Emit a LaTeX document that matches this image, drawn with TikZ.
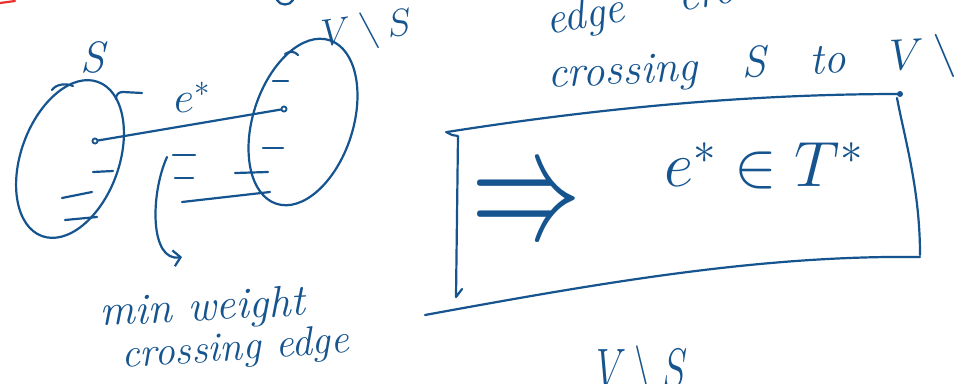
\documentclass[tikz,border=0pt]{standalone}
\usepackage{fix-cm}
\usepackage{amsmath,amssymb}
\usetikzlibrary{arrows.meta,positioning,calc}
\definecolor{InkBlue}{HTML}{15548E}
\definecolor{InkRed}{HTML}{E8312B}
\tikzset{
    % Pen stroke style
    pen/.style={
        draw=InkBlue,
        line width=2.2pt,
        line cap=round,
        line join=round
    },
    % Handwritten label style
    inklabel/.style={
        text=InkBlue,
        inner sep=0pt,
        font=\fontsize{44}{48}\selectfont\itshape
    },
    % Vertex dot style
    vertexdot/.style={
        draw=InkBlue,
        line width=1.8pt,
        circle,
        fill=white,
        inner sep=1.8pt
    },
    % Pointer arrow with open head
    pointerarrow/.style={
        pen,
        -{Straight Barb[length=7pt,width=16pt]}
    }
}
\begin{document}
\begin{tikzpicture}[x=1pt,y=-1pt]
    \useasboundingbox (0,0) rectangle (956,383);
    \fill[white] (0,0) rectangle (956,383);
    \clip (0,0) rectangle (956,383);

    % red mark in the corner
    \draw[pen, draw=InkRed] (0,3) -- (15,1);
    % cut-off letter at the top
    \draw[pen] (277,0) .. controls (280,6) and (290,6) .. (293,0);

    % the two sides of the cut
    \draw[pen, rotate around={-20:(70,159)}] (70,159) ellipse [x radius=49, y radius=82];
    \draw[pen, rotate around={-18:(303,122)}] (303,122) ellipse [x radius=50, y radius=86];
    \draw[pen] (52,90) .. controls (56,84) and (66,83) .. (73,86);
    \draw[pen] (116,99) .. controls (116,94) and (119,92) .. (123,92) -- (142,93);
    \draw[pen] (285,54) .. controls (289,51) and (295,51) .. (298,55);

    \node[inklabel] (Slabel) at (93,57) {S};
    \node[inklabel, font=\fontsize{38}{40}\selectfont, rotate=8] (VSlabel) at (367,31) {$V\setminus S$};

    % crossing edge e*
    \node[vertexdot] (sdot) at (95,141) {};
    \node[vertexdot] (vdot) at (284,109) {};
    \draw[pen] (sdot) -- (vdot);
    \node[inklabel, font=\fontsize{44}{46}\selectfont] (elabel) at (192,97) {$e^{*}$};

    % other edges
    \foreach \xa/\ya/\xb/\yb in {93/172/113/171, 62/198/92/192, 65/220/97/217,
                                 273/81/288/81, 263/148/283/148, 235/173/268/172,
                                 182/202/270/192, 173/155/195/155, 175/178/193/178}
        \draw[pen] (\xa,\ya) -- (\xb,\yb);

    % pointer to the note
    \coordinate (ptrstart) at (167,157);
    \coordinate (ptrend) at (182,257);
    \draw[pointerarrow] (ptrstart) .. controls (150,195) and (150,262) .. (ptrend);

    \node[inklabel, anchor=base west, rotate=3] (minweight) at (100,326) {min weight};
    \node[inklabel, font=\fontsize{41}{44}\selectfont\itshape, anchor=base west, rotate=4] (crossedge) at (122,368) {crossing edge};

    % right hand notes
    \node[inklabel, anchor=base west, rotate=10] (topline) at (548,35) {edge\hspace{55pt}crossing\hspace{40pt}with};
    \node[inklabel, anchor=base west, rotate=3] (midline) at (548,88) {crossing\quad S\quad to\quad $V\setminus S$};

    % the framed result
    \draw[pen] (447,132) .. controls (600,108) and (750,94) .. (900,94);
    \fill[InkBlue] (900,94) circle (3);
    \draw[pen] (897,98) .. controls (905,140) and (920,190) .. (920,255);
    \draw[pen] (425,315) .. controls (600,283) and (760,255) .. (920,257);
    \draw[pen] (446,132) -- (452,135) -- (458,136) -- (456,297) -- (462,289);

    \node[inklabel, font=\fontsize{110}{110}\selectfont, yscale=1.45] (implies) at (526,209) {$\Rightarrow$};
    \node[inklabel, font=\fontsize{64}{66}\selectfont] (result) at (764,166) {$e^{*}\in T^{*}$};

    % cut-off note at the bottom
    \node[inklabel, font=\fontsize{38}{40}\selectfont, yscale=1.5, anchor=north] (VSbottom) at (642,345) {$V\setminus S$};
\end{tikzpicture}
\end{document}
